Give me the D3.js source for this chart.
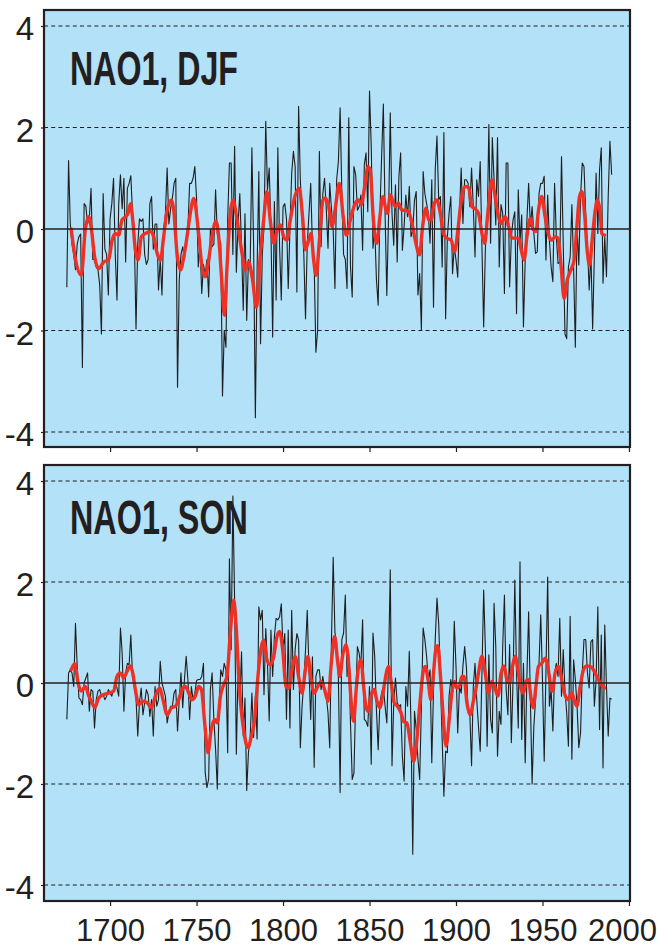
<!DOCTYPE html>
<html>
<head>
<meta charset="utf-8">
<script src="https://cdn.jsdelivr.net/npm/d3@7"></script>
<style>
body { margin: 0; background: #fff; }
text { font-family: "Liberation Sans Narrow", "Liberation Sans", Arial, sans-serif; fill: #231f20; }
</style>
</head>
<body>
<svg id="chart" width="657" height="949"></svg>
<script>

// years of the annual reconstruction
var years = d3.range(1675, 1991);

// NAO1, DJF annual values
var djfValues = [
	-1.15,1.35,0.1,-0.3,-0.5,-0.8,-0.3,-0.15,-0.1,-2.73,
	0.5,0.45,0.1,0.2,0.8,-0.6,-0.6,-0.75,-0.8,-1.1,
	-2.07,0.7,-0.4,-0.5,-1.3,0.2,0.5,1.0,-0.5,-1.4,
	0.5,1.07,0.4,1.0,-0.65,0.8,0.9,1.05,0.3,-0.1,
	-1.97,-0.3,0.2,0.15,0.2,-0.5,-0.7,-0.6,0.5,0.64,
	-0.4,0.1,0.1,-1.2,-0.6,-1.3,0.0,0.3,1.2,0.1,
	0.4,0.6,0.9,1.0,-3.12,-1.0,-0.5,-0.35,-0.6,-0.2,
	0.0,0.9,0.9,1.0,
	1.23,0.6,-0.75,-0.3,-1.27,-0.7,-0.9,-0.6,-1.34,0.0,
	-0.35,-0.3,0.77,-0.1,-0.2,-0.28,-3.29,-2.0,-2.33,0.2,
	1.3,1.3,-0.5,1.63,-0.85,0.1,0.7,-0.35,-1.6,0.3,
	-1.8,-0.6,-0.75,1.6,-0.35,-3.72,-0.8,1.13,-2.26,-0.5,
	0.05,2.12,0.77,1.2,0.0,-2.13,0.54,-1.4,1.6,-0.35,
	-1.4,0.44,0.5,0.2,-1.17,0.0,1.1,1.53,1.23,-1.24,
	2.42,0.97,0.2,-0.48,-1.77,-0.3,0.3,0.9,-0.35,-0.68,
	-2.43,-2.0,1.53,-0.35,0.7,1.0,0.4,-0.38,0.9,0.4,
	-0.02,-1.17,0.97,1.33,2.39,0.7,-0.5,
	-0.6,-1.17,2.19,-0.75,-1.34,1.23,1.07,0.37,0.44,0.67,
	-0.42,1.27,1.5,0.34,2.72,1.63,-0.38,0.05,-1.0,-1.5,
	0.31,1.43,2.46,0.31,-1.31,0.24,2.29,0.31,-0.32,0.87,
	-0.65,1.04,1.5,-0.42,0.05,0.67,0.24,0.84,-0.15,-0.02,
	0.57,0.74,-1.3,-0.88,-2.0,1.13,0.7,0.5,0.31,-0.28,
	0.97,-1.54,1.17,1.83,0.57,0.64,-0.75,1.9,-1.77,-0.15,
	0.31,0.64,-0.88,-0.35,-0.61,-0.95,0.31,1.2,0.11,0.97,
	0.97,0.9,0.44,1.2,0.44,
	-0.55,0.97,0.64,1.33,-0.35,-1.93,-0.35,-0.02,2.06,-0.28,
	1.8,0.97,0.08,1.8,-0.75,0.48,0.31,-1.27,1.3,1.3,
	-1.14,-0.15,0.18,0.34,-1.67,0.77,-0.25,0.28,-1.93,-0.61,
	0.18,0.9,0.05,0.44,-0.08,-0.48,-0.45,0.7,0.9,0.9,
	1.04,-0.61,0.67,-0.22,-0.75,-1.04,0.9,-0.15,-0.68,-0.65,
	1.43,-0.28,-2.07,-2.16,-0.75,-0.55,0.48,-0.78,-2.33,0.08,
	-0.71,0.64,1.3,1.23,0.31,-0.35,-1.2,-0.48,-1.97,-0.51,
	1.1,-0.09,1.17,1.6,-1.07,-0.15,-0.94,0.64,1.73,1.07
];

// NAO1, SON annual values
var sonValues = [
	-0.72,0.2,0.26,0.2,-0.07,1.18,0.33,-0.3,-0.33,-0.43,
	0.0,0.1,0.2,-0.56,-0.13,-0.16,-0.89,-0.33,-0.16,-0.13,
	-0.26,-0.23,-0.33,-0.26,-0.13,-0.2,-0.26,-0.13,0.0,-0.1,
	-0.26,1.09,0.59,-0.56,0.2,0.39,0.36,0.95,0.13,0.0,
	-0.3,-1.05,-0.39,-0.1,-0.63,-0.39,-0.13,-0.23,-0.66,-0.33,
	-1.05,-0.07,-0.46,-0.33,0.43,0.0,-0.13,-0.26,-0.79,-0.59,
	-0.46,-0.46,-0.2,-0.13,-0.95,-0.33,0.2,-0.49,0.07,0.53,
	0.07,-0.72,-0.07,-0.33,-0.2,0.05,0.07,0.07,0.13,
	0.39,-1.77,-2.07,-1.9,-0.13,0.2,-0.72,-1.31,-2.1,-0.46,
	0.26,0.13,0.39,0.26,-1.38,2.46,0.66,3.7,1.64,-1.41,
	0.26,-0.39,0.62,-1.05,-0.3,-2.13,-1.38,-1.08,-0.2,-1.08,
	-0.26,-1.11,1.51,1.25,1.44,-0.23,1.08,0.39,-0.75,1.05,
	0.13,0.92,1.28,1.25,1.31,1.57,0.66,0.98,-0.72,1.05,
	-0.89,1.44,-0.13,0.66,0.98,0.85,-1.28,-0.46,0.0,0.66,
	1.44,0.26,-0.72,0.52,-1.67,0.13,0.26,0.26,-0.13,0.13,
	-0.13,-0.26,-0.59,-1.28,0.85,2.49,
	1.0,0.79,0.1,-2.17,0.86,0.99,1.74,0.13,0.56,-0.79,
	-1.91,-1.78,-0.33,0.72,0.59,0.33,1.25,-0.72,-0.76,-0.86,
	-0.07,-1.61,0.99,0.53,-0.53,-1.32,-0.39,-0.2,-0.07,-0.46,
	-0.79,0.39,2.24,-1.64,-0.39,0.1,-0.39,-0.46,-0.43,-1.45,
	-1.94,-0.07,-0.46,0.63,-0.86,-3.39,-0.56,-0.92,-1.51,-1.91,
	-0.46,1.09,0.86,0.53,0.07,0.26,-1.58,-0.13,0.86,1.68,
	1.18,0.07,-1.12,-2.24,-1.35,-1.38,-0.26,0.07,-0.2,1.22,
	0.33,-0.99,-0.07,-0.2,0.33,0.72,0.33,-0.59,-0.59,-1.64,
	-0.07,0.39,-0.33,
	-0.86,-1.35,0.2,1.84,0.66,-1.25,0.56,-0.72,
	-0.99,1.58,0.72,-1.45,-0.56,-0.82,0.72,1.74,-0.13,-0.63,
	0.76,-1.18,0.07,2.04,0.2,-0.89,2.4,-1.12,0.39,-1.58,
	0.13,1.41,-0.33,-2.0,-0.86,-0.33,0.2,0.39,1.35,0.07,
	-1.55,0.2,2.1,-0.46,-0.13,-0.95,0.2,0.39,0.13,1.28,
	-0.26,0.66,-0.13,-0.59,-1.25,1.32,-1.51,0.46,0.07,-0.46,
	-1.28,-0.99,0.2,0.86,0.86,0.2,-0.1,0.82,0.86,-0.46,
	0.07,1.51,-0.92,0.95,-1.68,1.15,-0.07,-1.05,-0.3,-0.32
];

// smoothed (red) curves, read at the turning points
var djfSmoothYears = [1677.5,1680,1683.4,1685.7,1687.7,1689.2,1691.1,1693.4,1696.3,1699.2,1701.2,1703.1,1705,1706.9,1708.9,1710.4,1711.8,1713.1,1714.6,1716.2,1718.1,1720.4,1723.3,1725.2,1727.2,1729.1,1731,1733,1735.5,1736.8,1738.7,1740.7,1742.6,1744.5,1746.4,1748.4,
	1751.2,1753.2,1755.1,1757,1758.9,1761.2,1762.8,1764.3,1766.1,1767.6,1769.5,1771.1,1773.4,1776.3,1778.2,1780.1,1782.4,1784.6,1786.9,1788.8,1790.7,1792.6,1794.6,1796.1,1798.4,1800.4,1802.3,1804.2,1807.1,1809.4,1811.3,1812.9,1814.8,1816.2,1817.7,1819.2,1820.9,1823.1,1824.4,1826.4,1828.3,
	1830.2,1832.5,1835,1836.6,1838.9,1841.8,1843.7,1845.2,1847.2,1849.1,1850.4,1852,1852.9,1854.3,1855.8,1857.8,1859.1,1860.4,1862,1863.3,1864.9,1866.8,1868.7,1871,1873,1874.9,1876.8,1878.9,1880.7,1882.6,1884.2,1885.7,1887.2,1889,1890.9,1892.8,1894.7,1897.2,1899.2,1901.1,1903,1905.3,1907.3,1909.2,1910.7,
	1913,1915,1916.5,1918.4,1920.7,1922.3,1924.2,1926.1,1928.4,1930.4,1932.3,1934.2,1936.1,1937.7,1939.4,1941,1942.9,1944.8,1946.2,1947.7,1949.6,1951.2,1952.5,1953.9,1955.4,1957.3,1958.9,1960.8,1962.5,1964.3,1966,1968.3,1969.9,1971.4,1972.8,1974.3,1976,1977.2,1978.9,1980.5,1981.8,1983.4,1984.3,1985.9];
var djfSmoothValues = [0.0,-0.6,-0.91,0.0,0.24,0.0,-0.55,-0.78,-0.65,-0.6,-0.22,-0.09,-0.12,0.18,0.24,0.31,0.5,0.18,-0.41,-0.61,-0.15,-0.09,-0.05,-0.15,-0.48,-0.61,-0.15,0.37,0.57,0.37,-0.48,-0.81,-0.55,-0.15,0.31,0.6,
	-0.09,-0.75,-0.94,-0.61,-0.15,0.15,-0.15,-0.88,-1.7,-0.75,0.31,0.57,0.18,-0.48,-0.81,-0.65,-1.01,-1.54,-0.48,0.18,0.74,0.18,-0.28,-0.09,0.08,-0.15,-0.22,0.18,0.67,0.8,0.24,-0.41,-0.22,-0.09,-0.61,-0.91,-0.28,0.57,0.61,0.44,0.05,
	0.4,0.9,0.18,-0.12,0.18,0.51,0.57,0.48,0.84,1.23,1.17,0.31,-0.09,-0.28,0.18,0.64,0.44,0.31,0.67,0.57,0.44,0.51,0.37,0.37,0.31,0.05,-0.28,-0.51,0.05,0.41,0.18,0.18,0.48,0.57,0.31,-0.09,-0.18,-0.22,-0.45,-0.02,0.57,0.84,0.81,0.44,0.41,
	0.31,-0.09,-0.28,0.31,0.97,0.71,0.31,0.11,0.24,0.05,-0.18,-0.18,-0.18,-0.41,-0.61,-0.15,0.21,-0.02,-0.05,0.37,0.64,0.31,0.05,-0.15,-0.22,-0.15,-0.18,-0.75,-1.37,-1.01,-0.84,-0.61,0.05,0.64,0.74,0.31,-0.48,-0.71,-0.15,0.37,0.57,0.31,-0.09,-0.12];

var sonSmoothYears = [1677.5,1679.6,1681.5,1683.4,1685.7,1687.7,1689.6,1691.1,1693.4,1696.3,1699.2,1702.1,1704,1705.9,1707.9,1709.8,1711.8,1713.1,1714.6,1716.6,1718.9,1721.4,1723.9,1726.2,1728.7,1730.6,1733,1735.5,1737.8,1739.7,1741.6,1743.5,1745.5,1747.4,1749.3,
	1751.2,1752.8,1754.7,1756.6,1758.5,1760.5,1762,1763.8,1765.7,1767.6,1769.5,1771.5,1772.8,1774.7,1777.2,1779.7,1781.7,1783.6,1785.5,1787.5,1788.8,1790.7,1792.6,1794.6,1796.5,1798,1799.8,1801.7,1803.3,1805.2,1807.1,1809,1811,1812.9,1814.4,1816.2,1818.1,1820,1822.1,1824,1826,1827.9,1829.8,
	1831.7,1832.9,1834.4,1836.4,1837.9,1839.3,1840.8,1842.3,1843.7,1845,1846.6,1847.9,1849.3,1850.8,1852.7,1854.3,1856,1858.1,1860.1,1861,1862.6,1864.3,1866.2,1868.2,1869.7,1871.6,1873.6,1875.5,1877,1879,1880.9,1882.2,1883.8,1885.5,1887,1888.6,1889.5,1890.9,1892.2,1894.2,1896.1,1897.6,1899.2,1900.5,1901.9,1903.4,1904.6,1906.3,1908.2,1910.2,
	1911.1,1913,1915,1916.9,1918.8,1920.7,1922.3,1924.2,1926.1,1927.7,1929.4,1930.9,1932.7,1934.2,1935.8,1937.7,1939,1940.4,1941.9,1943.5,1944.6,1946.2,1947.7,1949.6,1951.6,1953.1,1954.5,1955.8,1957.3,1959.3,1960.8,1962.7,1964.7,1967,1968.3,1969.9,1971.8,1973.7,1975.6,1977.6,1979.5,1981.4,1983.4,1985.9];
var sonSmoothValues = [0.26,0.38,0.0,-0.16,-0.07,-0.26,-0.39,-0.49,-0.3,-0.23,-0.2,-0.16,0.13,0.2,0.1,0.23,0.34,0.2,-0.13,-0.43,-0.36,-0.39,-0.49,-0.26,-0.1,-0.33,-0.63,-0.49,-0.46,-0.33,-0.13,-0.07,-0.2,-0.33,-0.26,
	-0.07,-0.13,-0.79,-1.38,-0.92,-0.72,-0.79,-0.26,-0.03,0.13,0.98,1.64,1.18,-0.07,-0.92,-1.28,-1.05,-0.72,0.13,0.72,0.85,0.46,0.36,0.52,0.92,1.02,0.66,-0.07,-0.1,0.26,0.52,0.13,-0.2,0.26,0.52,0.07,-0.2,-0.07,0.03,-0.13,-0.36,0.39,0.92,
	0.39,0.13,0.53,0.76,0.39,-0.33,-0.76,-0.13,0.33,0.46,-0.07,-0.46,-0.56,-0.26,-0.13,-0.36,-0.49,-0.13,0.26,0.33,0.0,-0.39,-0.46,-0.59,-0.76,-0.79,-1.18,-1.55,-1.25,-0.46,0.2,0.33,0.07,-0.33,0.2,0.72,0.74,0.2,-0.46,-1.25,-0.72,-0.2,0.03,-0.1,-0.07,0.13,0.13,-0.39,-0.63,-0.33,
	-0.2,0.2,0.53,0.2,-0.2,0.03,-0.07,-0.26,0.2,0.34,0.07,0.0,0.33,0.53,0.26,-0.13,-0.2,0.03,0.07,-0.33,-0.49,-0.07,0.33,0.39,0.49,0.33,0.0,-0.16,0.2,0.33,0.13,-0.2,-0.33,-0.2,-0.33,-0.46,-0.07,0.26,0.34,0.33,0.26,0.13,0.0,-0.1];

var yTicks = [4, 2, 0, -2, -4];
var xTicks = [1700, 1750, 1800, 1850, 1900, 1950, 2000];

var svg = d3.select("#chart");
var left = 44, right = 630;

var x = d3.scaleLinear().domain([1661.8, 2000.6]).range([left, right]);

// ==================== Panels ====================
var panels = [
	{ id: "djf", title: "NAO1, DJF", titleLen: 168, top: 10, bottom: 447, zeroY: 229, unit: 50.75,
	  values: djfValues, sYears: djfSmoothYears, sValues: djfSmoothValues, labels: false },
	{ id: "son", title: "NAO1, SON", titleLen: 178, top: 465, bottom: 901, zeroY: 683, unit: 50.5,
	  values: sonValues, sYears: sonSmoothYears, sValues: sonSmoothValues, labels: true }
];

panels.forEach(function(p){
	var y = d3.scaleLinear()
		.domain([(p.zeroY - p.bottom) / p.unit, (p.zeroY - p.top) / p.unit])
		.range([p.bottom, p.top]);

	var g = svg.append("g").attr("class", "panel-" + p.id);

	g.append("clipPath").attr("id", "clip-" + p.id)
		.append("rect")
		.attr("x", left).attr("y", p.top)
		.attr("width", right - left).attr("height", p.bottom - p.top);

	// background
	g.append("rect")
		.attr("x", left).attr("y", p.top)
		.attr("width", right - left).attr("height", p.bottom - p.top)
		.attr("fill", "#b3e1f8");

	// grid lines
	g.selectAll(".grid")
		.data(yTicks.filter(function(d){ return d !== 0; }))
		.enter().append("line")
		.attr("x1", left).attr("x2", right)
		.attr("y1", function(d){ return y(d); })
		.attr("y2", function(d){ return y(d); })
		.attr("stroke", "#231f20")
		.attr("stroke-width", 1.2)
		.attr("stroke-dasharray", "4,3.2");

	var plot = g.append("g").attr("clip-path", "url(#clip-" + p.id + ")");

	// annual series
	var line = d3.line()
		.x(function(d, i){ return x(years[i]); })
		.y(function(d){ return y(d); });

	plot.append("path")
		.datum(p.values)
		.attr("d", line)
		.attr("fill", "none")
		.attr("stroke", "#1e1e1e")
		.attr("stroke-width", 1.1)
		.attr("stroke-linejoin", "round");

	// zero line
	g.append("line")
		.attr("x1", left).attr("x2", right)
		.attr("y1", y(0)).attr("y2", y(0))
		.attr("stroke", "#231f20")
		.attr("stroke-width", 1.3);

	// smoothed series
	var smooth = d3.line()
		.x(function(d, i){ return x(p.sYears[i]); })
		.y(function(d){ return y(d); })
		.curve(d3.curveMonotoneX);

	plot.append("path")
		.datum(p.sValues)
		.attr("d", smooth)
		.attr("fill", "none")
		.attr("stroke", "#ee3124")
		.attr("stroke-width", 3.4)
		.attr("stroke-linejoin", "round")
		.attr("stroke-linecap", "round");

	// frame
	g.append("rect")
		.attr("x", left).attr("y", p.top)
		.attr("width", right - left).attr("height", p.bottom - p.top)
		.attr("fill", "none")
		.attr("stroke", "#231f20")
		.attr("stroke-width", 2.2);

	// y axis
	var yAxis = d3.axisLeft(y).tickValues(yTicks).tickSize(3).tickPadding(7)
		.tickFormat(function(d){ return String(d); });
	var ya = g.append("g").attr("transform", "translate(" + left + ",0)").call(yAxis);
	ya.select(".domain").remove();
	ya.selectAll(".tick line").attr("stroke", "#231f20").attr("stroke-width", 1.2);
	ya.selectAll(".tick text")
		.attr("font-size", 33)
		.attr("dy", "0.42em")
		.attr("fill", "#231f20")
		.style("font-family", "'Liberation Sans Narrow', 'Liberation Sans', Arial, sans-serif");

	// x axis
	var xAxis = d3.axisBottom(x).tickValues(xTicks).tickSize(5).tickPadding(18)
		.tickFormat(function(d){ return p.labels ? String(d) : ""; });
	var xa = g.append("g").attr("transform", "translate(0," + p.bottom + ")").call(xAxis);
	xa.select(".domain").remove();
	xa.selectAll(".tick line").attr("stroke", "#231f20").attr("stroke-width", 1.2);
	xa.selectAll(".tick text")
		.attr("font-size", 31)
		.attr("x", function(d){ return d === 2000 ? -7 : 0; })
		.attr("y", 40)
		.attr("dy", 0)
		.attr("fill", "#231f20")
		.style("font-family", "'Liberation Sans Narrow', 'Liberation Sans', Arial, sans-serif");

	// title
	g.append("text")
		.attr("x", 70)
		.attr("y", p.top + (p.id === "djf" ? 75 : 69))
		.attr("font-size", 49)
		.attr("font-weight", "bold")
		.attr("textLength", p.titleLen)
		.attr("lengthAdjust", "spacingAndGlyphs")
		.text(p.title);
});

</script>
</body>
</html>
